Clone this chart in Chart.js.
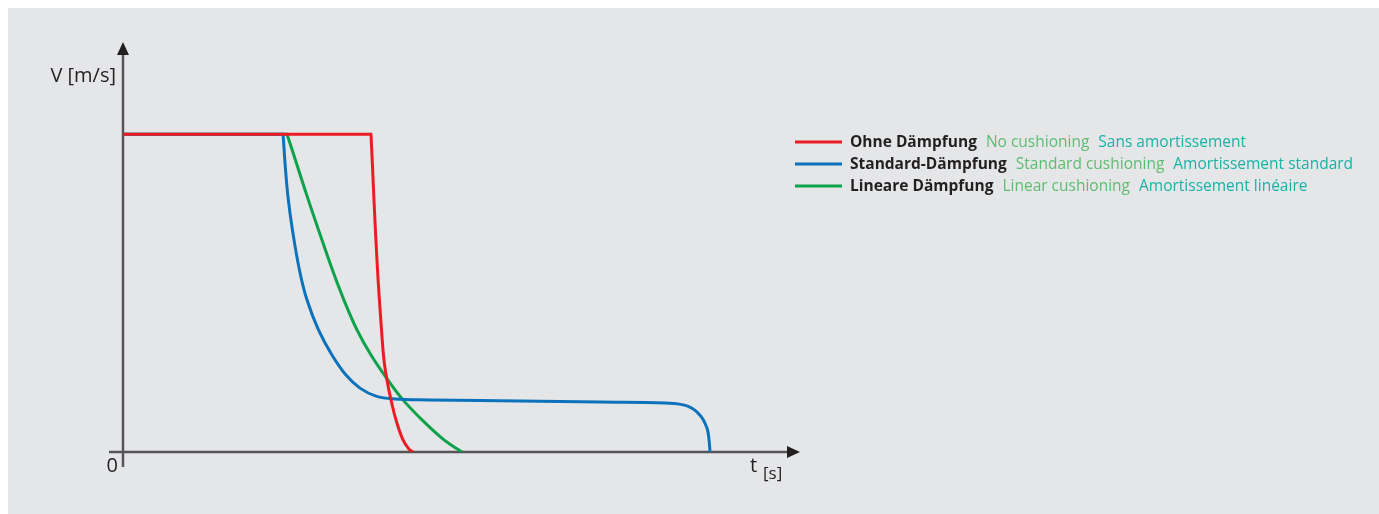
<!DOCTYPE html>
<html>
<head>
<meta charset="utf-8">
<script src="https://cdn.jsdelivr.net/npm/chart.js@4"></script>
<style>
  html, body { margin: 0; padding: 0; background: #fff; }
  #wrap { position: absolute; left: 0; top: 0; width: 1379px; height: 514px; }
</style>
</head>
<body>
<div id="wrap"><canvas id="chart"></canvas></div>
<script>
// t [s] and V [m/s] (arbitrary units)
const redT   = [0, 3.711, 3.718, 3.763, 3.816, 3.876, 3.913, 3.958, 4.018, 4.093, 4.198, 4.288, 4.348];
const redV   = [1, 1, 1, 0.792, 0.572, 0.384, 0.289, 0.226, 0.164, 0.101, 0.038, 0.009, 0];
const blueT  = [0, 2.391, 2.399, 2.429, 2.474, 2.541, 2.646, 2.759, 2.931, 3.133, 3.343, 3.553, 3.793, 4.078, 4.603, 5.352, 7.151, 8.126, 8.456, 8.651, 8.756, 8.786, 8.801];
const blueV  = [1, 1, 1, 0.909, 0.802, 0.698, 0.572, 0.478, 0.384, 0.305, 0.242, 0.201, 0.176, 0.167, 0.164, 0.162, 0.157, 0.154, 0.145, 0.116, 0.075, 0.038, 0];
const greenT = [0, 2.451, 2.459, 2.765, 2.933, 3.142, 3.313, 3.508, 3.718, 3.973, 4.198, 4.483, 4.813, 5.082];
const greenV = [1, 1, 1, 0.802, 0.698, 0.572, 0.478, 0.384, 0.305, 0.226, 0.164, 0.101, 0.038, 0];

const seriesLabels = ['Ohne Dämpfung', 'Standard-Dämpfung', 'Lineare Dämpfung'];
const seriesEn = ['No cushioning', 'Standard cushioning', 'Linear cushioning'];
const seriesFr = ['Sans amortissement', 'Amortissement standard', 'Amortissement linéaire'];
const seriesColors = ['#ec1c24', '#0b72bb', '#0ca24c'];

const pts = (ts, vs) => ts.map((t, i) => ({x: t, y: vs[i]}));

const backdrop = {
  id: 'backdrop',
  beforeDraw(chart) {
    const c = chart.ctx;
    c.save();
    c.fillStyle = '#ffffff';
    c.fillRect(0, 0, chart.width, chart.height);
    c.fillStyle = '#e5e6e8';
    c.fillRect(8, 8, chart.width - 8, chart.height - 8);
    c.restore();
  }
};

const axesArrows = {
  id: 'axesArrows',
  beforeDatasetsDraw(chart) {
    const c = chart.ctx;
    const xs = chart.scales.x, ys = chart.scales.y;
    const x0 = xs.getPixelForValue(0), y0 = ys.getPixelForValue(0);
    const top = chart.chartArea.top, right = chart.chartArea.right;
    c.save();
    c.strokeStyle = '#555557';
    c.lineWidth = 2.5;
    c.beginPath();
    c.moveTo(x0, y0 + 15); c.lineTo(x0, top + 8);
    c.moveTo(x0 - 14, y0); c.lineTo(right, y0);
    c.stroke();
    c.fillStyle = '#231f20';
    c.beginPath();
    c.moveTo(x0, top); c.lineTo(x0 - 6, top + 13); c.lineTo(x0 + 6, top + 13); c.closePath();
    c.fill();
    c.beginPath();
    c.moveTo(right + 10, y0); c.lineTo(right - 3, y0 - 6); c.lineTo(right - 3, y0 + 6); c.closePath();
    c.fill();

    c.fillStyle = '#231f20';
    c.font = '20px "Open Sans", sans-serif';
    c.textBaseline = 'alphabetic';
    c.textAlign = 'right';
    c.fillText('V [m/s]', x0 - 7, 82);
    c.fillText('0', x0 - 5, y0 + 20);
    c.textAlign = 'left';
    c.fillText('t', right - 40, y0 + 20);
    c.font = '17px "Open Sans", sans-serif';
    c.fillText('[s]', right - 27, y0 + 27);
    c.restore();
  }
};

const legendText = {
  id: 'legendText',
  afterDraw(chart) {
    const c = chart.ctx;
    const rows = [142, 164, 186];
    c.save();
    c.textBaseline = 'middle';
    rows.forEach((y, i) => {
      c.strokeStyle = seriesColors[i];
      c.lineWidth = 3;
      c.beginPath();
      c.moveTo(795, y); c.lineTo(842, y);
      c.stroke();
      let x = 850;
      c.font = 'bold 15.5px "Open Sans", sans-serif';
      c.fillStyle = '#231f20';
      c.fillText(seriesLabels[i], x, y + 1);
      x += c.measureText(seriesLabels[i]).width + 9;
      c.font = '15.5px "Open Sans", sans-serif';
      c.fillStyle = '#5cbd70';
      c.fillText(seriesEn[i], x, y + 1);
      x += c.measureText(seriesEn[i]).width + 9;
      c.fillStyle = '#17b3a6';
      c.fillText(seriesFr[i], x, y + 1);
    });
    c.restore();
  }
};

new Chart(document.getElementById('chart'), {
  type: 'line',
  data: {
    datasets: [
      {label: seriesLabels[0], data: pts(redT, redV), borderColor: seriesColors[0]},
      {label: seriesLabels[1], data: pts(blueT, blueV), borderColor: seriesColors[1]},
      {label: seriesLabels[2], data: pts(greenT, greenV), borderColor: seriesColors[2]}
    ]
  },
  options: {
    responsive: true,
    maintainAspectRatio: false,
    animation: false,
    layout: {padding: {left: 123, top: 42, right: 589, bottom: 62}},
    elements: {
      point: {radius: 0},
      line: {borderWidth: 3, tension: 0.4, fill: false}
    },
    scales: {
      x: {type: 'linear', min: 0, max: 10, display: false},
      y: {type: 'linear', min: 0, max: 1.29, display: false}
    },
    plugins: {legend: {display: false}, tooltip: {enabled: false}}
  },
  plugins: [backdrop, axesArrows, legendText]
});
</script>
</body>
</html>
